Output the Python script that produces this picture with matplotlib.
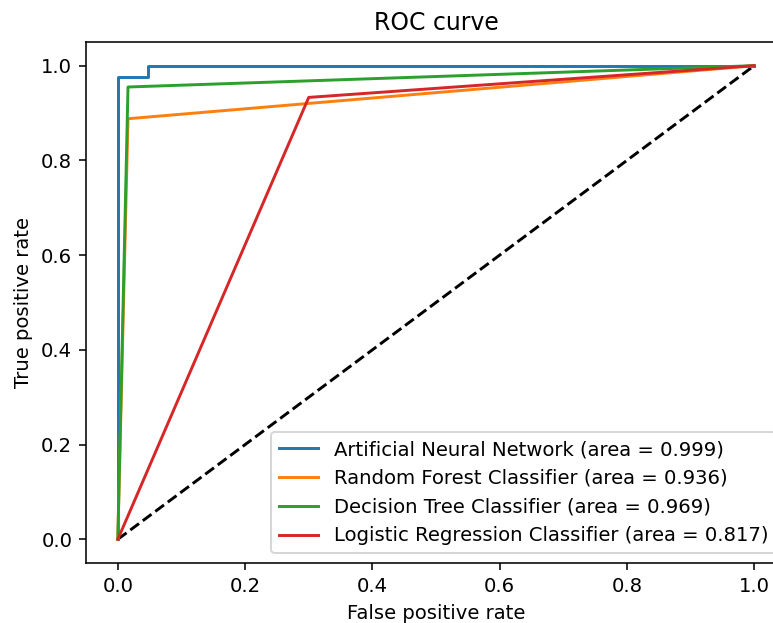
#ROC curves for four classifiers
import matplotlib
matplotlib.use('Agg')
import matplotlib.pyplot as plt

#False/true positive rates
fpr_ann = [0.0, 0.0, 0.047, 0.047, 1.0]
tpr_ann = [0.0, 0.977, 0.977, 1.0, 1.0]
auc_ann = 0.999

fpr_rf = [0.0, 0.016, 1.0]
tpr_rf = [0.0, 0.888, 1.0]
auc_rf = 0.936

fpr_dt = [0.0, 0.016, 1.0]
tpr_dt = [0.0, 0.955, 1.0]
auc_dt = 0.969

fpr_lr = [0.0, 0.3, 1.0]
tpr_lr = [0.0, 0.933, 1.0]
auc_lr = 0.817

dpi = 141
fig = plt.figure(figsize=(773/dpi, 623/dpi), dpi=dpi)
#axes run a little past the right edge, like the reference crop
ax = fig.add_axes([86/773, 60/623, (786-86)/773, (563-42)/623])

ax.plot([0, 1], [0, 1], 'k--')
ax.plot(fpr_ann, tpr_ann, label='Artificial Neural Network (area = {:.3f})'.format(auc_ann))
ax.plot(fpr_rf, tpr_rf, label='Random Forest Classifier (area = {:.3f})'.format(auc_rf))
ax.plot(fpr_dt, tpr_dt, label='Decision Tree Classifier (area = {:.3f})'.format(auc_dt))
ax.plot(fpr_lr, tpr_lr, label='Logistic Regression Classifier (area = {:.3f})'.format(auc_lr))

ax.set_xlabel('False positive rate')
ax.set_ylabel('True positive rate')
ax.set_title('ROC curve')
ax.legend(loc='best')

fig.savefig('out.png', dpi=dpi)
